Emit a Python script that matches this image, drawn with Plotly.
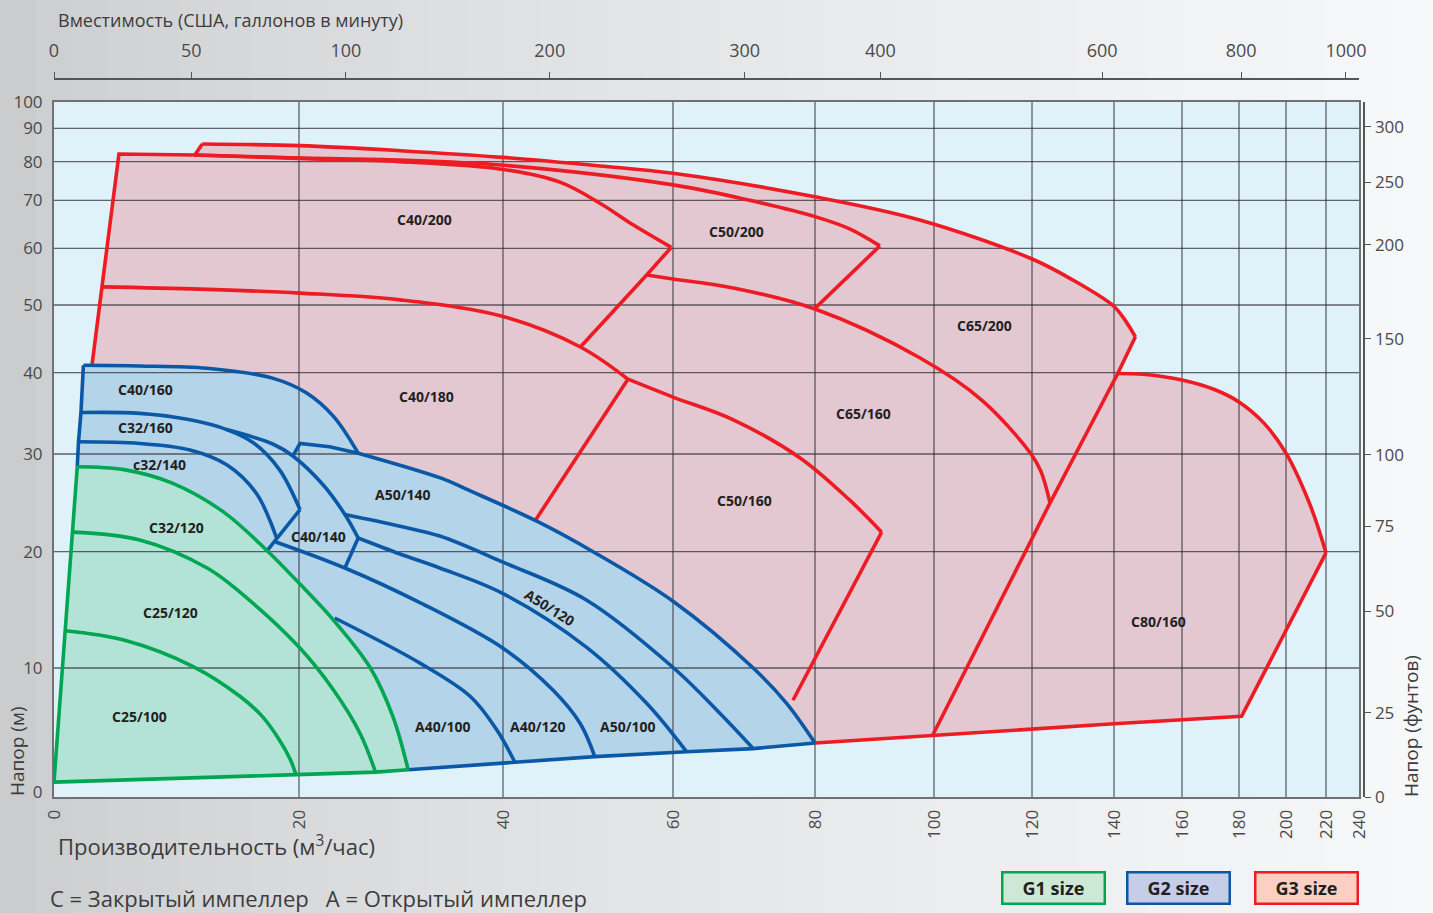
import numpy as np
import plotly.graph_objects as go

# ---------------- axis scales as printed on the chart (non-uniform) ----------------
Q_TICKS = [0, 20, 40, 60, 80, 100, 120, 140, 160, 180, 200, 220, 240]
Q_POS = [0.0, 0.18774, 0.34406, 0.47433, 0.58314, 0.67433, 0.74943, 0.81226,
         0.86437, 0.90805, 0.94406, 0.97471, 1.0]
H_TICKS = [0, 10, 20, 30, 40, 50, 60, 70, 80, 90, 100]
H_POS = [0.00719, 0.18553, 0.35280, 0.49331, 0.61024, 0.70761, 0.78916,
         0.85819, 0.91371, 0.96174, 1.0]
GPM_TICKS = [0, 50, 100, 200, 300, 400, 600, 800, 1000]
GPM_AT_Q = [0, 11.2, 24.6, 45.5, 70.1, 91.0, 137.1, 180.9, 232.1]
FT_TICKS = [0, 25, 50, 75, 100, 150, 200, 250, 300]
FT_AT_H = [-0.4, 6.4, 14.9, 22.6, 29.9, 45.0, 60.7, 74.7, 90.6]

# ---------------- region boundaries: flow Q (m3/h), head H (m) ----------------
# G3 (red)
RED_LEFT_Q = [3.1, 5.3, 11.5, 12.1]
RED_LEFT_H = [41.1, 82.3, 82.0, 85.3]
RED_TOP_Q = [12.1, 20.1, 29.9, 40.0, 51.4, 60.0, 80.0, 97.6, 119.8, 129.5, 139.9, 143.2, 146.3]
RED_TOP_H = [85.3, 84.8, 83.3, 81.3, 78.9, 77.0, 70.9, 65.9, 58.2, 54.6, 49.85, 47.8, 45.3]
RED_EDGE_Q = [146.3, 141.1, 124.4, 99.8]
RED_EDGE_H = [45.3, 39.9, 25.0, 4.6]
C80_TOP_Q = [141.1, 148.5, 160.0, 171.6, 180.0, 190.6, 200.0, 212.4, 220.0]
C80_TOP_H = [39.9, 39.8, 39.1, 37.9, 36.4, 33.8, 30.1, 24.6, 19.9]
C80_EDGE_Q = [220.0, 181.1, 140.0, 99.8, 80.0]
C80_EDGE_H = [19.9, 6.1, 5.5, 4.6, 3.95]
C40_200_Q = [11.5, 20.1, 29.9, 40.0, 46.7, 51.4, 55.3, 59.8]
C40_200_H = [82.0, 81.0, 80.0, 78.0, 74.7, 69.4, 64.9, 60.2]
C40_200_EDGE_Q = [59.8, 56.9, 49.1]
C40_200_EDGE_H = [60.2, 55.3, 43.8]
C50_200_Q = [11.5, 20.1, 29.9, 40.0, 60.0, 70.8, 80.0, 85.9, 90.9]
C50_200_H = [82.0, 81.1, 80.5, 79.1, 74.0, 70.0, 66.6, 64.0, 60.5]
C50_200_EDGE_Q = [90.9, 80.0]
C50_200_EDGE_H = [60.5, 49.5]
C65_160_Q = [56.9, 60.0, 68.5, 80.0, 97.6, 109.8, 119.8, 122.2, 124.4]
C65_160_H = [55.3, 54.6, 53.0, 49.4, 42.2, 36.6, 30.0, 28.2, 25.0]
C40_180_Q = [3.9, 11.9, 20.1, 29.9, 40.0, 49.1, 54.7]
C40_180_H = [53.2, 52.8, 52.1, 50.9, 48.3, 43.8, 39.2]
C40_180_EDGE_Q = [54.7, 43.8]
C40_180_EDGE_H = [39.2, 23.2]
C50_160_Q = [54.7, 60.0, 68.5, 77.9, 85.8, 91.2]
C50_160_H = [39.2, 37.0, 34.2, 29.6, 25.3, 22.0]
C50_160_EDGE_Q = [91.2, 76.9]
C50_160_EDGE_H = [22.0, 7.4]

# G2 (blue)
BLUE_LEFT_Q = [1.9, 2.0, 2.2, 2.4]
BLUE_LEFT_H = [28.7, 31.5, 35.1, 41.1]
C40_160_Q = [2.4, 7.0, 12.5, 17.9, 20.75, 23.4, 25.8]
C40_160_H = [41.1, 41.0, 40.65, 39.3, 37.5, 34.6, 30.1]
BLUE_OUTER_Q = [25.8, 34.0, 36.4, 43.8, 50.6, 60.1, 71.3, 76.0, 80.0]
BLUE_OUTER_H = [30.1, 27.5, 26.4, 23.2, 20.0, 15.7, 10.0, 7.15, 3.95]
BLUE_BOTTOM_Q = [80.0, 71.3, 61.9, 50.8, 41.4, 30.7]
BLUE_BOTTOM_H = [3.95, 3.5, 3.25, 2.85, 2.4, 1.8]
C32_160_Q = [2.2, 7.0, 11.1, 14.1, 16.3, 18.4, 20.1]
C32_160_H = [35.1, 35.0, 34.2, 33.0, 31.35, 28.4, 24.3]
C32_160_EDGE_Q = [20.1, 17.4]
C32_160_EDGE_H = [24.3, 20.1]
C40_140_Q = [14.1, 17.9, 19.5, 22.4, 24.5, 25.8]
C40_140_H = [33.0, 31.2, 29.8, 26.8, 23.8, 21.4]
C40_140_EDGE_Q = [25.8, 24.5]
C40_140_EDGE_H = [21.4, 18.6]
A50_140_STEP_Q = [19.5, 20.1, 23.0, 25.8]
A50_140_STEP_H = [29.8, 31.3, 30.9, 30.1]
C32_140_Q = [2.0, 7.0, 11.1, 14.1, 16.5, 18.2]
C32_140_H = [31.5, 31.3, 30.5, 28.9, 26.0, 21.3]
A40_120_Q = [18.1, 24.5, 31.9, 40.0, 45.9, 49.1, 50.8]
A40_120_H = [21.0, 18.6, 15.6, 11.7, 8.2, 5.5, 2.85]
A40_100_Q = [23.5, 31.9, 36.8, 39.4, 41.4]
A40_100_H = [14.3, 10.4, 7.7, 5.0, 2.4]
A50_100_Q = [25.8, 29.9, 33.8, 40.0, 49.8, 56.9, 61.9]
A50_100_H = [21.4, 19.8, 18.6, 16.4, 11.8, 7.15, 3.25]
A50_120_Q = [24.5, 29.9, 33.8, 40.0, 49.8, 60.1, 66.6, 71.3]
A50_120_H = [23.8, 22.6, 21.6, 19.1, 15.85, 10.0, 6.35, 3.5]

# G1 (green)
GREEN_LEFT_Q = [0.0, 0.9, 1.5, 1.9]
GREEN_LEFT_H = [0.8, 13.2, 22.0, 28.7]
GREEN_OUTER_Q = [1.9, 5.7, 9.7, 13.8, 17.4, 20.0, 23.4, 27.0, 29.2, 30.7]
GREEN_OUTER_H = [28.7, 28.4, 27.0, 24.1, 20.1, 17.3, 14.1, 10.0, 6.1, 1.8]
GREEN_BOTTOM_Q = [30.7, 27.5, 19.75, 0.0]
GREEN_BOTTOM_H = [1.8, 1.6, 1.4, 0.8]
C25_120_Q = [1.5, 7.0, 12.5, 15.2, 20.0, 23.4, 26.0, 27.5]
C25_120_H = [22.0, 21.2, 18.6, 16.5, 11.8, 8.2, 4.7, 1.6]
C25_100_Q = [0.9, 5.7, 11.4, 15.2, 17.0, 18.4, 19.3, 19.75]
C25_100_H = [13.2, 12.4, 10.1, 7.7, 6.1, 4.2, 2.6, 1.4]

# region names
LABELS = ['C25/100', 'C25/120', 'C32/120', 'c32/140', 'C32/160', 'C40/160', 'C40/140',
          'A50/140', 'A50/120', 'A40/100', 'A40/120', 'A50/100', 'C40/200', 'C50/200',
          'C40/180', 'C65/200', 'C65/160', 'C50/160', 'C80/160']

# label anchor points (layout)
LABEL_Q = [7.0, 9.5, 10.0, 8.65, 7.5, 7.5, 21.9, 30.1, 45.5, 34.1, 44.0, 54.6, 32.3, 69.0,
           32.5, 110.4, 88.2, 70.1, 153.2]
LABEL_H = [6.1, 14.8, 22.5, 28.9, 33.3, 37.9, 21.6, 25.9, 15.2, 5.3, 5.3, 5.3, 65.9, 63.6,
           37.1, 46.9, 35.0, 25.2, 14.0]
LABEL_ANGLE = [0, 0, 0, 0, 0, 0, 0, 0, 32, 0, 0, 0, 0, 0, 0, 0, 0, 0, 0]

LEGEND_TEXT = ['G1 size', 'G2 size', 'G3 size']

# ---------------- styles ----------------
RED = '#ed1c24'
BLUE = '#0b58a6'
GREEN = '#00a651'
RED_FILL = '#e3c8d1'
BLUE_FILL = '#b4d4ea'
GREEN_FILL = '#b3e3d7'
PLOT_BG = '#dff2fa'
FONT = 'Open Sans'
TXT = '#3c3c3e'
LW = 3.6

H_SCALE = [-0.4] + H_TICKS
H_SCALE_POS = [0.0] + H_POS


def fx(q):
    return np.interp(np.asarray(q, dtype=float), Q_TICKS, Q_POS)


def fy(h):
    return np.interp(np.asarray(h, dtype=float), H_SCALE, H_SCALE_POS)


fig = go.Figure()


def add_fill(qs, hs, color):
    fig.add_trace(go.Scatter(x=fx(qs), y=fy(hs), mode='lines', fill='toself',
                             fillcolor=color, line=dict(width=0, color=color),
                             hoverinfo='skip', showlegend=False))


def add_line(qs, hs, color, curve=False):
    fig.add_trace(go.Scatter(x=fx(qs), y=fy(hs), mode='lines',
                             line=dict(color=color, width=LW,
                                       shape='spline' if curve else 'linear',
                                       smoothing=1.0),
                             hoverinfo='skip', showlegend=False))


# fills
add_fill(RED_LEFT_Q + RED_TOP_Q + [RED_EDGE_Q[1]] + C80_TOP_Q + C80_EDGE_Q + BLUE_BOTTOM_Q
         + GREEN_BOTTOM_Q + GREEN_LEFT_Q + BLUE_LEFT_Q,
         RED_LEFT_H + RED_TOP_H + [RED_EDGE_H[1]] + C80_TOP_H + C80_EDGE_H + BLUE_BOTTOM_H
         + GREEN_BOTTOM_H + GREEN_LEFT_H + BLUE_LEFT_H, RED_FILL)
add_fill(C40_160_Q + BLUE_OUTER_Q + BLUE_BOTTOM_Q + GREEN_BOTTOM_Q + GREEN_LEFT_Q + BLUE_LEFT_Q,
         C40_160_H + BLUE_OUTER_H + BLUE_BOTTOM_H + GREEN_BOTTOM_H + GREEN_LEFT_H + BLUE_LEFT_H,
         BLUE_FILL)
add_fill(GREEN_OUTER_Q + GREEN_BOTTOM_Q + GREEN_LEFT_Q,
         GREEN_OUTER_H + GREEN_BOTTOM_H + GREEN_LEFT_H, GREEN_FILL)

# grid drawn over the fills
gx, gy = [], []
for q in Q_TICKS[1:-1]:
    gx += [float(fx(q)), float(fx(q)), None]
    gy += [0, 1, None]
for h in H_TICKS[1:-1]:
    gx += [0, 1, None]
    gy += [float(fy(h)), float(fy(h)), None]
fig.add_trace(go.Scatter(x=gx, y=gy, mode='lines',
                         line=dict(color='rgba(45,42,48,0.72)', width=1.3),
                         hoverinfo='skip', showlegend=False))

# red boundaries
add_line(RED_LEFT_Q, RED_LEFT_H, RED)
add_line(RED_TOP_Q, RED_TOP_H, RED, True)
add_line(RED_EDGE_Q, RED_EDGE_H, RED)
add_line(C80_TOP_Q, C80_TOP_H, RED, True)
add_line(C80_EDGE_Q, C80_EDGE_H, RED)
add_line(C40_200_Q, C40_200_H, RED, True)
add_line(C40_200_EDGE_Q, C40_200_EDGE_H, RED)
add_line(C50_200_Q, C50_200_H, RED, True)
add_line(C50_200_EDGE_Q, C50_200_EDGE_H, RED)
add_line(C65_160_Q, C65_160_H, RED, True)
add_line(C40_180_Q, C40_180_H, RED, True)
add_line(C40_180_EDGE_Q, C40_180_EDGE_H, RED)
add_line(C50_160_Q, C50_160_H, RED, True)
add_line(C50_160_EDGE_Q, C50_160_EDGE_H, RED)

# blue boundaries
add_line(BLUE_LEFT_Q, BLUE_LEFT_H, BLUE)
add_line(C40_160_Q, C40_160_H, BLUE, True)
add_line(BLUE_OUTER_Q, BLUE_OUTER_H, BLUE, True)
add_line(BLUE_BOTTOM_Q, BLUE_BOTTOM_H, BLUE)
add_line(C32_160_Q, C32_160_H, BLUE, True)
add_line(C32_160_EDGE_Q, C32_160_EDGE_H, BLUE)
add_line(C40_140_Q, C40_140_H, BLUE, True)
add_line(C40_140_EDGE_Q, C40_140_EDGE_H, BLUE)
add_line(A50_140_STEP_Q, A50_140_STEP_H, BLUE)
add_line(C32_140_Q, C32_140_H, BLUE, True)
add_line(A40_120_Q, A40_120_H, BLUE, True)
add_line(A40_100_Q, A40_100_H, BLUE, True)
add_line(A50_100_Q, A50_100_H, BLUE, True)
add_line(A50_120_Q, A50_120_H, BLUE, True)

# green boundaries
add_line(GREEN_LEFT_Q, GREEN_LEFT_H, GREEN)
add_line(GREEN_OUTER_Q, GREEN_OUTER_H, GREEN, True)
add_line(GREEN_BOTTOM_Q, GREEN_BOTTOM_H, GREEN)
add_line(C25_120_Q, C25_120_H, GREEN, True)
add_line(C25_100_Q, C25_100_H, GREEN, True)

# invisible anchors so the secondary (gpm / feet) axes are drawn
fig.add_trace(go.Scatter(x=[float(fx(GPM_AT_Q[0]))], y=[0], xaxis='x2', yaxis='y',
                         mode='markers', marker=dict(opacity=0, size=1), hoverinfo='skip',
                         showlegend=False))
fig.add_trace(go.Scatter(x=[0], y=[float(fy(FT_AT_H[0]))], xaxis='x', yaxis='y2',
                         mode='markers', marker=dict(opacity=0, size=1), hoverinfo='skip',
                         showlegend=False))

# region labels
for name, q, h, ang in zip(LABELS, LABEL_Q, LABEL_H, LABEL_ANGLE):
    fig.add_annotation(x=float(fx(q)), y=float(fy(h)), text='<b>' + name + '</b>',
                       showarrow=False, textangle=ang, xanchor='center', yanchor='middle',
                       font=dict(family=FONT, size=14, color='#231f20'))

# ---------------- page geometry ----------------
W, HGT = 1433, 913
ML, MR, MT, MB = 54, 70, 78, 116
PW = W - ML - MR
PH = HGT - MT - MB
XDOM = 1305 / PW
YDOM = 695.3 / PH


def px_x(p):
    return (p - ML) / PW


def px_y(p):
    return (HGT - MB - p) / PH


# background gradient
shapes = []
N = 40
for i in range(N):
    t = i / (N - 1)
    c = 203 + (247 - 203) * t ** 0.7
    shapes.append(dict(type='rect', xref='paper', yref='paper', layer='below',
                       x0=px_x(W * i / N), x1=px_x(W * (i + 1) / N + 1),
                       y0=px_y(HGT), y1=px_y(0),
                       fillcolor='rgb(%d,%d,%d)' % (c, c + 1, c + 2), line=dict(width=0)))
shapes.append(dict(type='rect', xref='paper', yref='paper', layer='below',
                   x0=0, x1=XDOM, y0=0, y1=YDOM, fillcolor=PLOT_BG, line=dict(width=0)))


def note(text, x, y, size, xanchor='left', angle=0):
    fig.add_annotation(xref='paper', yref='paper', x=px_x(x), y=px_y(y), xanchor=xanchor,
                       yanchor='middle', showarrow=False, text=text, textangle=angle,
                       font=dict(family=FONT, size=size, color=TXT))


note('Вместимость (США, галлонов в минуту)', 56, 20, 18)
note('Производительность (м<sup>3</sup>/час)', 56, 845, 22)
note('C = Закрытый импеллер\u00a0\u00a0\u00a0A = Открытый импеллер', 48, 898, 22)
note('Напор (м)', 17, 752, 19, 'center', -90)
note('Напор (фунтов)', 1411, 726, 19, 'center', -90)

LEG_CENTER = [1053, 1178.5, 1306.5]
LEG_BORDER = [GREEN, BLUE, RED]
LEG_FILL = ['#cde9d6', '#c6cde9', '#fbd0c2']
for txt, cx, bc, fc in zip(LEGEND_TEXT, LEG_CENTER, LEG_BORDER, LEG_FILL):
    fig.add_annotation(xref='paper', yref='paper', x=px_x(cx), y=px_y(888),
                       xanchor='center', yanchor='middle',
                       showarrow=False, text='<b>' + txt + '</b>', width=100, height=29,
                       bgcolor=fc, bordercolor=bc, borderwidth=2.5, borderpad=0,
                       align='center', valign='middle',
                       font=dict(family=FONT, size=18, color='#231f20'))

FRAME = '#707174'
TICKFONT = dict(family=FONT, size=17, color='#4a4a4c')

fig.update_layout(
    width=W, height=HGT, autosize=False,
    margin=dict(l=ML, r=MR, t=MT, b=MB, pad=0),
    paper_bgcolor='#e6e7e8', plot_bgcolor=PLOT_BG,
    showlegend=False,
    shapes=shapes,
    xaxis=dict(domain=[0, XDOM], range=[0, 1], tickmode='array',
               tickvals=[float(v) for v in fx(Q_TICKS)], ticktext=[str(v) for v in Q_TICKS],
               tickangle=-90, ticks='', showgrid=False, zeroline=False,
               showline=True, mirror=True, linecolor=FRAME, linewidth=2,
               tickfont=TICKFONT, ticklabelstandoff=4, fixedrange=True),
    yaxis=dict(domain=[0, YDOM], range=[0, 1], tickmode='array',
               tickvals=[float(v) for v in fy(H_TICKS)], ticktext=[str(v) for v in H_TICKS],
               ticks='', showgrid=False, zeroline=False,
               showline=True, mirror=True, linecolor=FRAME, linewidth=2,
               tickfont=TICKFONT, ticklabelstandoff=6, fixedrange=True),
    xaxis2=dict(overlaying='x', side='top', anchor='free', position=1, range=[0, 1],
                tickmode='array', tickvals=[float(v) for v in fx(GPM_AT_Q)],
                ticktext=[str(v) for v in GPM_TICKS], ticks='outside', ticklen=6,
                tickcolor='#555', tickwidth=1, showline=True, linecolor='#555',
                linewidth=1.5, showgrid=False, zeroline=False,
                tickfont=dict(family=FONT, size=18, color='#4a4a4c'),
                ticklabelstandoff=8, fixedrange=True),
    yaxis2=dict(overlaying='y', side='right', anchor='free', position=1, range=[0, 1],
                tickmode='array', tickvals=[float(v) for v in fy(FT_AT_H)],
                ticktext=[str(v) for v in FT_TICKS], ticks='outside', ticklen=6,
                tickcolor='#555', tickwidth=1, showline=True, linecolor='#555',
                linewidth=1.5, showgrid=False, zeroline=False,
                tickfont=TICKFONT, ticklabelstandoff=1, fixedrange=True),
)

fig.write_html('out.html', config={'displayModeBar': False, 'staticPlot': True},
               post_script="document.body.style.margin='0';"
                           "document.body.style.overflow='hidden';")
